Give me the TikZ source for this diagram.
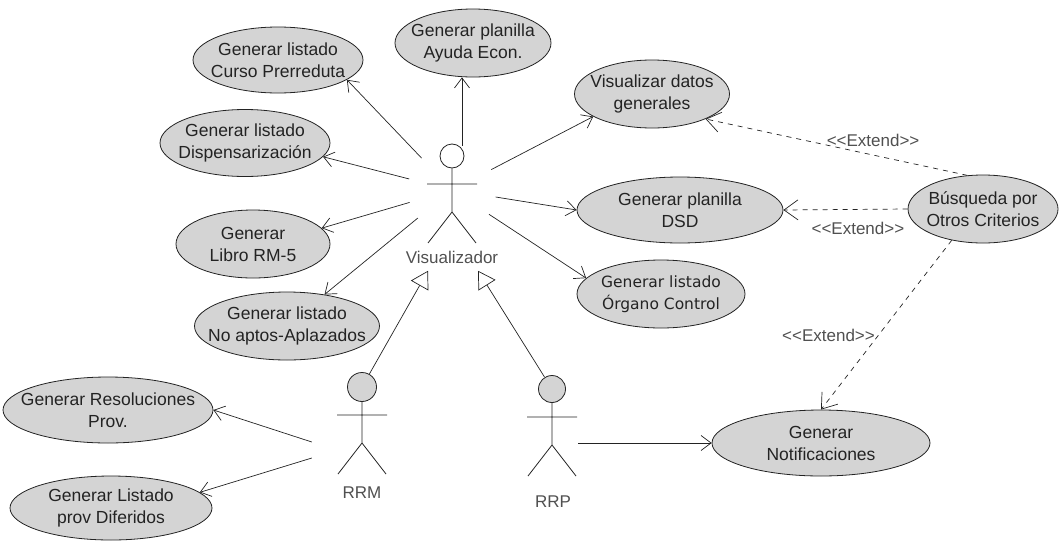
\documentclass[tikz,border=0pt]{standalone}
\usepackage{fontspec}
\setmainfont{Liberation Sans}
\newfontfamily\dejavu{DejaVu Sans}
\usetikzlibrary{shapes.geometric, arrows.meta}
\definecolor{ucfill}{RGB}{212,212,212}
\definecolor{ink}{RGB}{35,35,35}
\definecolor{soft}{RGB}{80,80,80}
% stereotype text, kerned so the guillemets stay as two angle brackets
\newcommand\stereotype[1]{<\kern0pt<#1>\kern0pt>}
\begin{document}
\begin{tikzpicture}[x=1pt, y=-1pt,
  uc/.style={ellipse, draw=ink, line width=0.8pt, fill=ucfill, inner xsep=-16pt,
    inner ysep=-4pt, align=center, text=ink, font=\fontsize{17.5}{22}\selectfont},
  hub/.style={circle, inner sep=0pt},
  headc/.style={circle, draw=ink, line width=0.8pt, inner sep=0pt},
  figure/.style={draw=ink, line width=0.8pt},
  assoc/.style={draw=ink, line width=0.7pt, -{Straight Barb[length=10pt,width=15pt]}},
  ext/.style={draw=ink, line width=0.7pt, dash pattern=on 5pt off 5pt,
    -{Straight Barb[length=14pt,width=20pt]}},
  gen/.style={draw=ink, line width=0.7pt, -{Triangle[open,length=17pt,width=20pt,fill=white]}},
  lbl/.style={text=soft, font=\fontsize{17}{20}\selectfont},
  pics/actor/.style={code={
    \node[headc,#1] (-head) at (0,0) {};
    \draw[figure] (-head.south) -- (0,56)
      (-25,28) -- (25,28)
      (-24,87) -- (0,56) -- (24,87);
  }}
]
\useasboundingbox (0,0) rectangle (1059,541);

% use cases
\node[uc, minimum width=170pt, minimum height=66pt] (curso)  at (278,60)  {Generar listado\\Curso Prerreduta};
\node[uc, minimum width=156pt, minimum height=68pt] (ayuda)  at (473,43)  {Generar planilla\\Ayuda Econ.};
\node[uc, minimum width=170pt, minimum height=67pt] (disp)   at (245,143) {Generar listado\\Dispensarización};
\node[uc, minimum width=154pt, minimum height=68pt] (libro)  at (253,244) {Generar\\Libro RM-5};
\node[uc, minimum width=185pt, minimum height=68pt] (noapt)  at (287,326) {Generar listado\\No aptos-Aplazados};
\node[uc, minimum width=155pt, minimum height=68pt] (visdat) at (652,94)  {Visualizar datos\\generales};
\node[uc, minimum width=206pt, minimum height=66pt] (dsd)    at (680,210) {Generar planilla\\DSD};
\node[uc, minimum width=150pt, minimum height=68pt] (busq)   at (983,209) {Búsqueda por\\Otros Criterios};
\node[uc, minimum width=168pt, minimum height=68pt, font=\dejavu\fontsize{15.5}{22}\selectfont]
      (organo) at (661,294) {Generar listado\\Órgano Control};
\node[uc, minimum width=210pt, minimum height=66pt] (resol)  at (108,410) {Generar Resoluciones\\Prov.};
\node[uc, minimum width=202pt, minimum height=64pt] (difer)  at (111,508) {Generar Listado\\prov Diferidos};
\node[uc, minimum width=218pt, minimum height=66pt] (notif)  at (821,443) {Generar\\Notificaciones};

% actors
\pic (visfig) at (452,156) {actor={minimum size=24pt, fill=white}};
\pic (rrmfig) at (362,387) {actor={minimum size=29pt, fill=ucfill}};
\pic (rrpfig) at (552,389) {actor={minimum size=27pt, fill=ucfill}};
\node[lbl] (vislbl) at (452,257) {Visualizador};
\node[lbl] (rrmlbl) at (362,493) {RRM};
\node[lbl] (rrplbl) at (553,502) {RRP};

% connection areas around the actors
\node[hub, minimum size=88pt] (vis) at (452,190) {};
\node[hub, rectangle, minimum width=100pt, minimum height=40pt] (rrm) at (362,450) {};
\node[hub, rectangle, minimum width=50pt, minimum height=40pt] (rrp) at (553,443) {};

% associations of Visualizador
\draw[assoc] (vis) -- (curso.-16);
\draw[assoc] ([xshift=10pt]vis.north) -- ([xshift=10pt]vis.north |- ayuda.south);
\draw[assoc] (vis) -- (disp.-10);
\draw[assoc] (vis) -- (libro.13);
\draw[assoc] (vis) -- (noapt.40);
\draw[assoc] (vis) -- (visdat.201);
\draw[assoc] (vis) -- (dsd.west);
\draw[assoc] (vis) -- (organo.168);

% associations of RRM and RRP
\draw[assoc] ([yshift=8pt]rrm.west) -- (resol.east);
\draw[assoc] ([yshift=-8pt]rrm.west) -- (difer.10);
\draw[assoc] (rrp.east) -- (notif.west);

% generalizations
\draw[gen] (rrmfig-head) -- ([xshift=-24pt,yshift=-4pt]vislbl.south);
\draw[gen] (rrpfig-head) -- ([xshift=26pt,yshift=-4pt]vislbl.south);

% extend relations
\draw[ext] (busq.115) -- node[lbl, pos=0.36, above=5pt] {\stereotype{Extend}} (visdat.-25);
\draw[ext] (busq.west) -- node[lbl, pos=0.4, below=9pt] {\stereotype{Extend}} (dsd.east);
\draw[ext] (busq.-135) -- node[lbl, pos=0.56, left=0pt] {\stereotype{Extend}} (notif.north);
\end{tikzpicture}
\end{document}
